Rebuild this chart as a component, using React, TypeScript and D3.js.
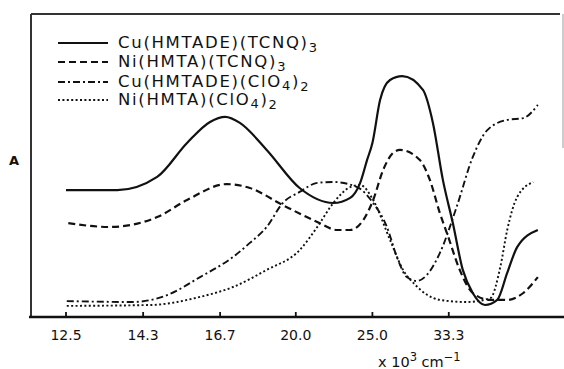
import React from "react";
import * as d3 from "d3";

// x ticks: wavenumber (x10^3 cm^-1); positioned by wavelength (nm) = 10000 / wavenumber
const tickLabels = ["12.5", "14.3", "16.7", "20.0", "25.0", "33.3"];

// wavelength (nm), relative absorbance (arbitrary units)
const cuTcnqX = [800, 733, 681, 642, 612, 592, 573, 538, 495, 451, 429, 416, 407, 400, 390, 377, 361, 334, 321, 308, 295, 282, 269, 253, 237, 224, 211, 184];
const cuTcnqY = [42.3, 42.3, 46.7, 58, 65, 66.7, 64.7, 55.7, 43, 38, 39.7, 44.7, 52.3, 58, 72.3, 79, 80.3, 75.7, 64.7, 45.7, 31.3, 15.7, 8, 4, 5.7, 14.7, 23.3, 29];

const niTcnqX = [797, 743, 681, 642, 590, 560, 517, 472, 446, 429, 412, 399, 386, 373, 364, 338, 325, 312, 301, 286, 269, 246, 224, 203, 184];
const niTcnqY = [31.3, 30, 33.3, 39, 44.3, 43, 37.3, 31.7, 29, 29, 32.3, 39, 49, 54.7, 55.7, 52.3, 45.7, 34.7, 26.7, 15.7, 8, 5.7, 5.7, 8, 13.3];

const cuClo4X = [799, 713, 668, 625, 582, 560, 538, 517, 495, 472, 451, 420, 399, 381, 368, 355, 342, 329, 312, 290, 269, 250, 224, 203, 184];
const cuClo4Y = [5.3, 5, 7.3, 13.3, 20, 24.7, 30, 38, 41.7, 44.7, 45, 43.3, 38, 30, 20, 13.3, 12, 14, 21.3, 36.7, 53.3, 62.3, 65.7, 66.3, 70.7];

const niClo4X = [799, 690, 625, 582, 538, 495, 472, 451, 429, 416, 399, 377, 360, 344, 312, 277, 246, 233, 224, 211, 190];
const niClo4Y = [3.7, 4, 6.7, 10, 15.7, 22.3, 30, 38, 43.3, 44, 39, 25.7, 15.7, 10.7, 5.7, 5, 6.3, 16.7, 29, 40, 45];

const W = 564;
const H = 369;

const series = [
  { name: "Cu(HMTADE)(TCNQ)", sub1: "", sub2: "3", xs: cuTcnqX, ys: cuTcnqY, dash: "", width: 2.2 },
  { name: "Ni(HMTA)(TCNQ)", sub1: "", sub2: "3", xs: niTcnqX, ys: niTcnqY, dash: "7 4", width: 2.2 },
  { name: "Cu(HMTADE)(ClO", sub1: "4", sub2: "2", xs: cuClo4X, ys: cuClo4Y, dash: "7 3 2 3", width: 1.9 },
  { name: "Ni(HMTA)(ClO", sub1: "4", sub2: "2", xs: niClo4X, ys: niClo4Y, dash: "2 2.4", width: 1.9 },
];

export default function App() {
  const x = d3.scaleLinear().domain([800, 300]).range([66, 449]);
  const y = d3.scaleLinear().domain([0, 101]).range([317, 14]);
  const line = d3
    .line<[number, number]>()
    .x((d) => x(d[0]))
    .y((d) => y(d[1]))
    .curve(d3.curveMonotoneX);

  const font = "'DejaVu Sans', sans-serif";
  const legendY = [43, 62, 82, 100];

  return (
    <svg
      width={W}
      height={H}
      style={{ position: "absolute", left: 0, top: 0, background: "#fff" }}
      fontFamily={font}
    >
      <rect x={0} y={0} width={W} height={H} fill="#fff" />
      {/* frame */}
      <line x1={31} y1={14} x2={560} y2={14} stroke="#333" strokeWidth={2} />
      <line x1={31} y1={14} x2={31} y2={317} stroke="#333" strokeWidth={2} />
      <line x1={563} y1={14} x2={563} y2={148} stroke="#aaa" strokeWidth={1.2} />
      <line x1={29} y1={317} x2={564} y2={317} stroke="#111" strokeWidth={2.6} />

      {/* ticks */}
      {tickLabels.map((t) => {
        const px = x(10000 / parseFloat(t));
        return (
          <g key={t}>
            <line x1={px} y1={317} x2={px} y2={312} stroke="#111" strokeWidth={1.8} />
            <text x={px} y={340} textAnchor="middle" fontSize={14} fill="#111">
              {t}
            </text>
          </g>
        );
      })}
      <text x={378} y={367} fontSize={14.5} fill="#111">
        x 10
        <tspan dy={-6} fontSize={11.5}>3</tspan>
        <tspan dy={6}> cm</tspan>
        <tspan dy={-6} fontSize={11.5}>−1</tspan>
      </text>
      <text x={14} y={165} textAnchor="middle" fontSize={13} fontWeight="bold" fill="#111">
        A
      </text>

      {/* curves */}
      {series.map((s) => (
        <path
          key={s.name + s.sub1}
          d={line(s.xs.map((v, i) => [v, s.ys[i]] as [number, number])) || ""}
          fill="none"
          stroke="#111"
          strokeWidth={s.width}
          strokeDasharray={s.dash || undefined}
        />
      ))}

      {/* legend */}
      {series.map((s, i) => (
        <g key={"lg" + i}>
          <line
            x1={58}
            x2={108}
            y1={legendY[i]}
            y2={legendY[i]}
            stroke="#111"
            strokeWidth={s.width}
            strokeDasharray={s.dash || undefined}
          />
          <text x={118} y={legendY[i] + 5} fontSize={16.5} letterSpacing={1.7} fill="#111">
            {s.name}
            {s.sub1 ? (
              <>
                <tspan dy={3} fontSize={13}>{s.sub1}</tspan>
                <tspan dy={-3}>)</tspan>
              </>
            ) : null}
            <tspan dy={3.5} fontSize={13}>{s.sub2}</tspan>
          </text>
        </g>
      ))}
    </svg>
  );
}
